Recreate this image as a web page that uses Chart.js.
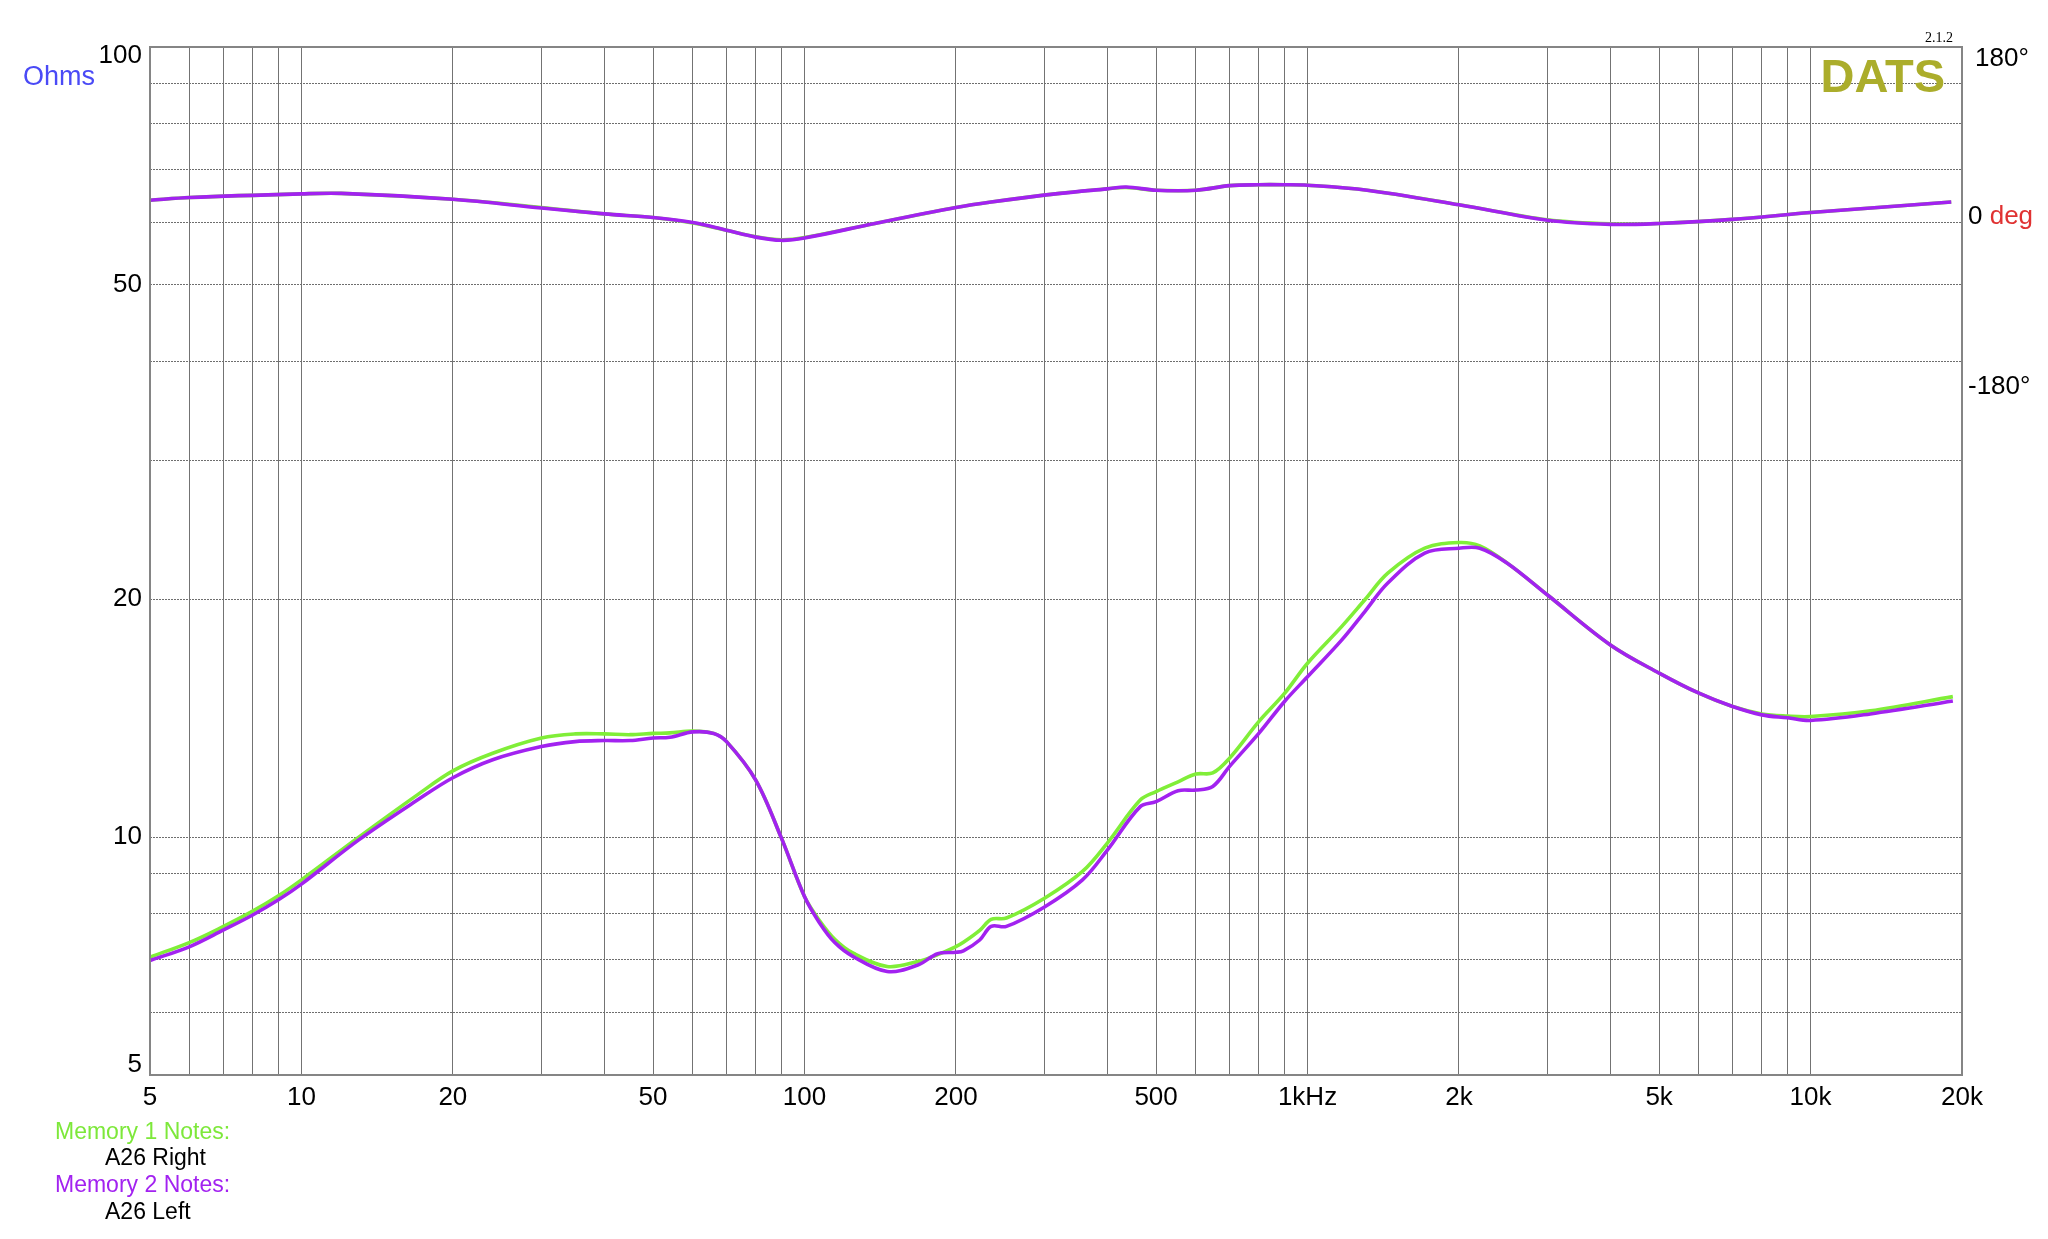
<!DOCTYPE html>
<html>
<head>
<meta charset="utf-8">
<title>A26 impedance</title>
<script src="https://cdn.jsdelivr.net/npm/chart.js@4.4.1/dist/chart.umd.min.js"></script>
<style>
html, body { margin: 0; padding: 0; background: #fff; }
</style>
</head>
<body>
<canvas id="impedanceChart" width="2048" height="1239"></canvas>
<script>
// impedance sweep, Hz
const freqs = [5, 6, 7, 8, 9, 10, 13, 17, 20, 24, 30, 35, 40, 45, 50, 54, 60, 66, 70, 80,
  90, 100, 107, 115, 125, 146, 168, 184, 200, 207, 223, 235, 252, 300, 357, 400, 465, 500, 553, 600, 648,
  700, 800, 900, 1000, 1170, 1300, 1444, 1710, 2000, 2200, 2495, 3000, 4000, 5000, 6000, 7000, 8000, 9000, 10000,
  13140, 19180];

// Memory 1 = A26 Right (green), ohms
const rightOhms = [7.05, 7.36, 7.71, 8.06, 8.43, 8.83, 10.0, 11.31, 12.13, 12.77, 13.35, 13.51, 13.51, 13.48, 13.53, 13.55, 13.62, 13.53, 13.21, 11.81,
  9.97, 8.41, 7.85, 7.42, 7.13, 6.86, 6.96, 7.10, 7.27, 7.36, 7.62, 7.87, 7.90, 8.37, 9.05, 9.83, 11.14, 11.42, 11.75, 12.02, 12.06,
  12.59, 14.0, 15.2, 16.6, 18.48, 19.97, 21.58, 23.21, 23.6, 23.37, 22.22, 20.25, 17.51, 16.13, 15.21, 14.63, 14.32, 14.23, 14.21,
  14.45, 15.06];

// Memory 2 = A26 Left (purple), ohms
const leftOhms = [6.98, 7.27, 7.63, 7.97, 8.33, 8.72, 9.92, 11.14, 11.89, 12.53, 13.02, 13.21, 13.25, 13.25, 13.35, 13.38, 13.59, 13.53, 13.21, 11.81,
  9.97, 8.41, 7.80, 7.35, 7.06, 6.76, 6.89, 7.12, 7.15, 7.18, 7.41, 7.71, 7.71, 8.16, 8.83, 9.63, 10.93, 11.09, 11.45, 11.47, 11.59,
  12.29, 13.53, 14.85, 15.96, 17.77, 19.3, 20.97, 22.88, 23.21, 23.21, 22.22, 20.25, 17.51, 16.13, 15.21, 14.63, 14.28, 14.16, 14.05,
  14.32, 14.87];

// phase, degrees
const phaseFreqs = [5, 6, 10, 12, 20, 30, 40, 50, 60, 70, 80, 90, 100, 138, 200, 235, 322, 400, 436, 500,
  600, 700, 800, 900, 1000, 1314, 2000, 3000, 4000, 5000, 7000, 10000, 19040];
const rightPhase = [25, 28, 32, 32.5, 26, 17, 10, 6, 0, -8, -15, -18.5, -16, -0.5, 17, 23, 32.5, 37.5, 39, 36,
  36, 41, 42, 42, 41.5, 36, 20, 3.5, -1, -0.5, 4, 11.5, 23];
const leftPhase = [25, 28, 32, 32.5, 26, 16.5, 10, 6, 0.5, -8, -15.5, -19, -16.5, -0.5, 17, 23, 32.5, 37.5, 39.5, 36,
  36, 41, 42, 42, 41.5, 36, 20, 3, -1.5, -0.5, 4, 11.5, 23];

// axis ticks
const freqGrid = [5, 6, 7, 8, 9, 10, 20, 30, 40, 50, 60, 70, 80, 90, 100, 200, 300, 400, 500, 600, 700, 800, 900,
  1000, 2000, 3000, 4000, 5000, 6000, 7000, 8000, 9000, 10000, 20000];
const freqTicks = [5, 10, 20, 50, 100, 200, 500, 1000, 2000, 5000, 10000, 20000];
const freqTickLabels = ['5', '10', '20', '50', '100', '200', '500', '1kHz', '2k', '5k', '10k', '20k'];
const ohmGrid = [5, 6, 7, 8, 9, 10, 20, 30, 40, 50, 60, 70, 80, 90, 100];
const ohmTicks = [5, 10, 20, 50, 100];
const ohmTickLabels = ['5', '10', '20', '50', '100'];
const phaseTicks = [180, 0, -180];
const phaseTickLabels = ['180°', '0', '-180°'];

const GREEN = '#80ee38';
const PURPLE = '#a222f0';
const FONT = '"Liberation Sans", Arial, sans-serif';

function points(xs, ys) {
  return xs.map((x, i) => ({ x: x, y: ys[i] }));
}

function line(label, xs, ys, color, axis, order) {
  return {
    label: label,
    data: points(xs, ys),
    yAxisID: axis,
    borderColor: color,
    borderWidth: 3.6,
    pointRadius: 0,
    tension: 0.35,
    fill: false,
    order: order
  };
}

const decorations = {
  id: 'decorations',
  afterDraw(chart) {
    const ctx = chart.ctx;
    const area = chart.chartArea;
    const y = chart.scales.y;
    const y2 = chart.scales.y2;
    ctx.save();

    ctx.strokeStyle = '#858585';
    ctx.lineWidth = 2;
    ctx.strokeRect(area.left, area.top, area.right - area.left, area.bottom - area.top);

    // ohm labels, kept inside the frame at the ends
    ctx.fillStyle = '#000';
    ctx.font = '26px ' + FONT;
    ctx.textAlign = 'right';
    ctx.textBaseline = 'middle';
    ohmTicks.forEach((v, i) => {
      const py = Math.min(Math.max(y.getPixelForValue(v), area.top + 9), area.bottom - 10);
      ctx.fillText(ohmTickLabels[i], area.left - 8, py);
    });

    ctx.textAlign = 'left';
    ctx.fillStyle = '#4a4af6';
    ctx.font = '27px ' + FONT;
    ctx.fillText('Ohms', 23, 78);

    ctx.textBaseline = 'alphabetic';
    ctx.textAlign = 'right';
    ctx.fillStyle = '#abad2b';
    ctx.font = 'bold 47px ' + FONT;
    ctx.fillText('DATS', 1945, 92);
    ctx.fillStyle = '#000';
    ctx.font = '14px "Liberation Serif", serif';
    ctx.fillText('2.1.2', 1953, 42);

    // phase axis labels
    ctx.textAlign = 'left';
    ctx.textBaseline = 'middle';
    ctx.font = '26px ' + FONT;
    phaseTicks.forEach((v, i) => {
      const py = y2.getPixelForValue(v) - (v === 0 ? 6 : 0);
      const x = v > 0 ? area.right + 13 : area.right + 6;
      ctx.fillStyle = '#000';
      ctx.fillText(phaseTickLabels[i], x, py);
      if (v === 0) {
        ctx.fillStyle = '#e03232';
        ctx.fillText('deg', x + ctx.measureText('0 ').width, py);
      }
    });

    // memory notes
    ctx.font = '23px ' + FONT;
    ctx.fillStyle = '#7de83a';
    ctx.fillText('Memory 1 Notes:', 55, 1133);
    ctx.fillStyle = '#000';
    ctx.fillText('A26 Right', 105, 1159);
    ctx.fillStyle = PURPLE;
    ctx.fillText('Memory 2 Notes:', 55, 1186);
    ctx.fillStyle = '#000';
    ctx.fillText('A26 Left', 105, 1213);

    ctx.restore();
  }
};

const ctx = document.getElementById('impedanceChart').getContext('2d');
new Chart(ctx, {
  type: 'line',
  data: {
    datasets: [
      line('Memory 2 phase', phaseFreqs, leftPhase, PURPLE, 'y2', 0),
      line('Memory 1 phase', phaseFreqs, rightPhase, GREEN, 'y2', 1),
      line('Memory 2 (A26 Left)', freqs, leftOhms, PURPLE, 'y', 0),
      line('Memory 1 (A26 Right)', freqs, rightOhms, GREEN, 'y', 1)
    ]
  },
  options: {
    responsive: false,
    animation: false,
    layout: { padding: { left: 0, top: 47, right: 86, bottom: 0 } },
    plugins: { legend: { display: false }, tooltip: { enabled: false } },
    scales: {
      x: {
        type: 'logarithmic',
        min: 5,
        max: 20000,
        afterBuildTicks: s => { s.ticks = freqGrid.map(v => ({ value: v })); },
        afterFit: s => { s.height = 164; },
        grid: { color: '#737373', lineWidth: 1, drawTicks: false },
        border: { display: false },
        ticks: {
          autoSkip: false,
          maxRotation: 0,
          padding: 7,
          color: '#000',
          font: { family: FONT, size: 26 },
          callback: v => {
            const i = freqTicks.indexOf(v);
            return i < 0 ? '' : freqTickLabels[i];
          }
        }
      },
      y: {
        type: 'logarithmic',
        position: 'left',
        min: 5,
        max: 100,
        afterBuildTicks: s => { s.ticks = ohmGrid.map(v => ({ value: v })); },
        afterFit: s => { s.width = 150; },
        grid: { color: '#6e6e6e', lineWidth: 1, drawTicks: false },
        border: { display: false, dash: [2, 1] },
        ticks: { display: false }
      },
      y2: {
        type: 'linear',
        position: 'right',
        min: -935.2,
        max: 193.2,
        display: false
      }
    }
  },
  plugins: [decorations]
});
</script>
</body>
</html>
